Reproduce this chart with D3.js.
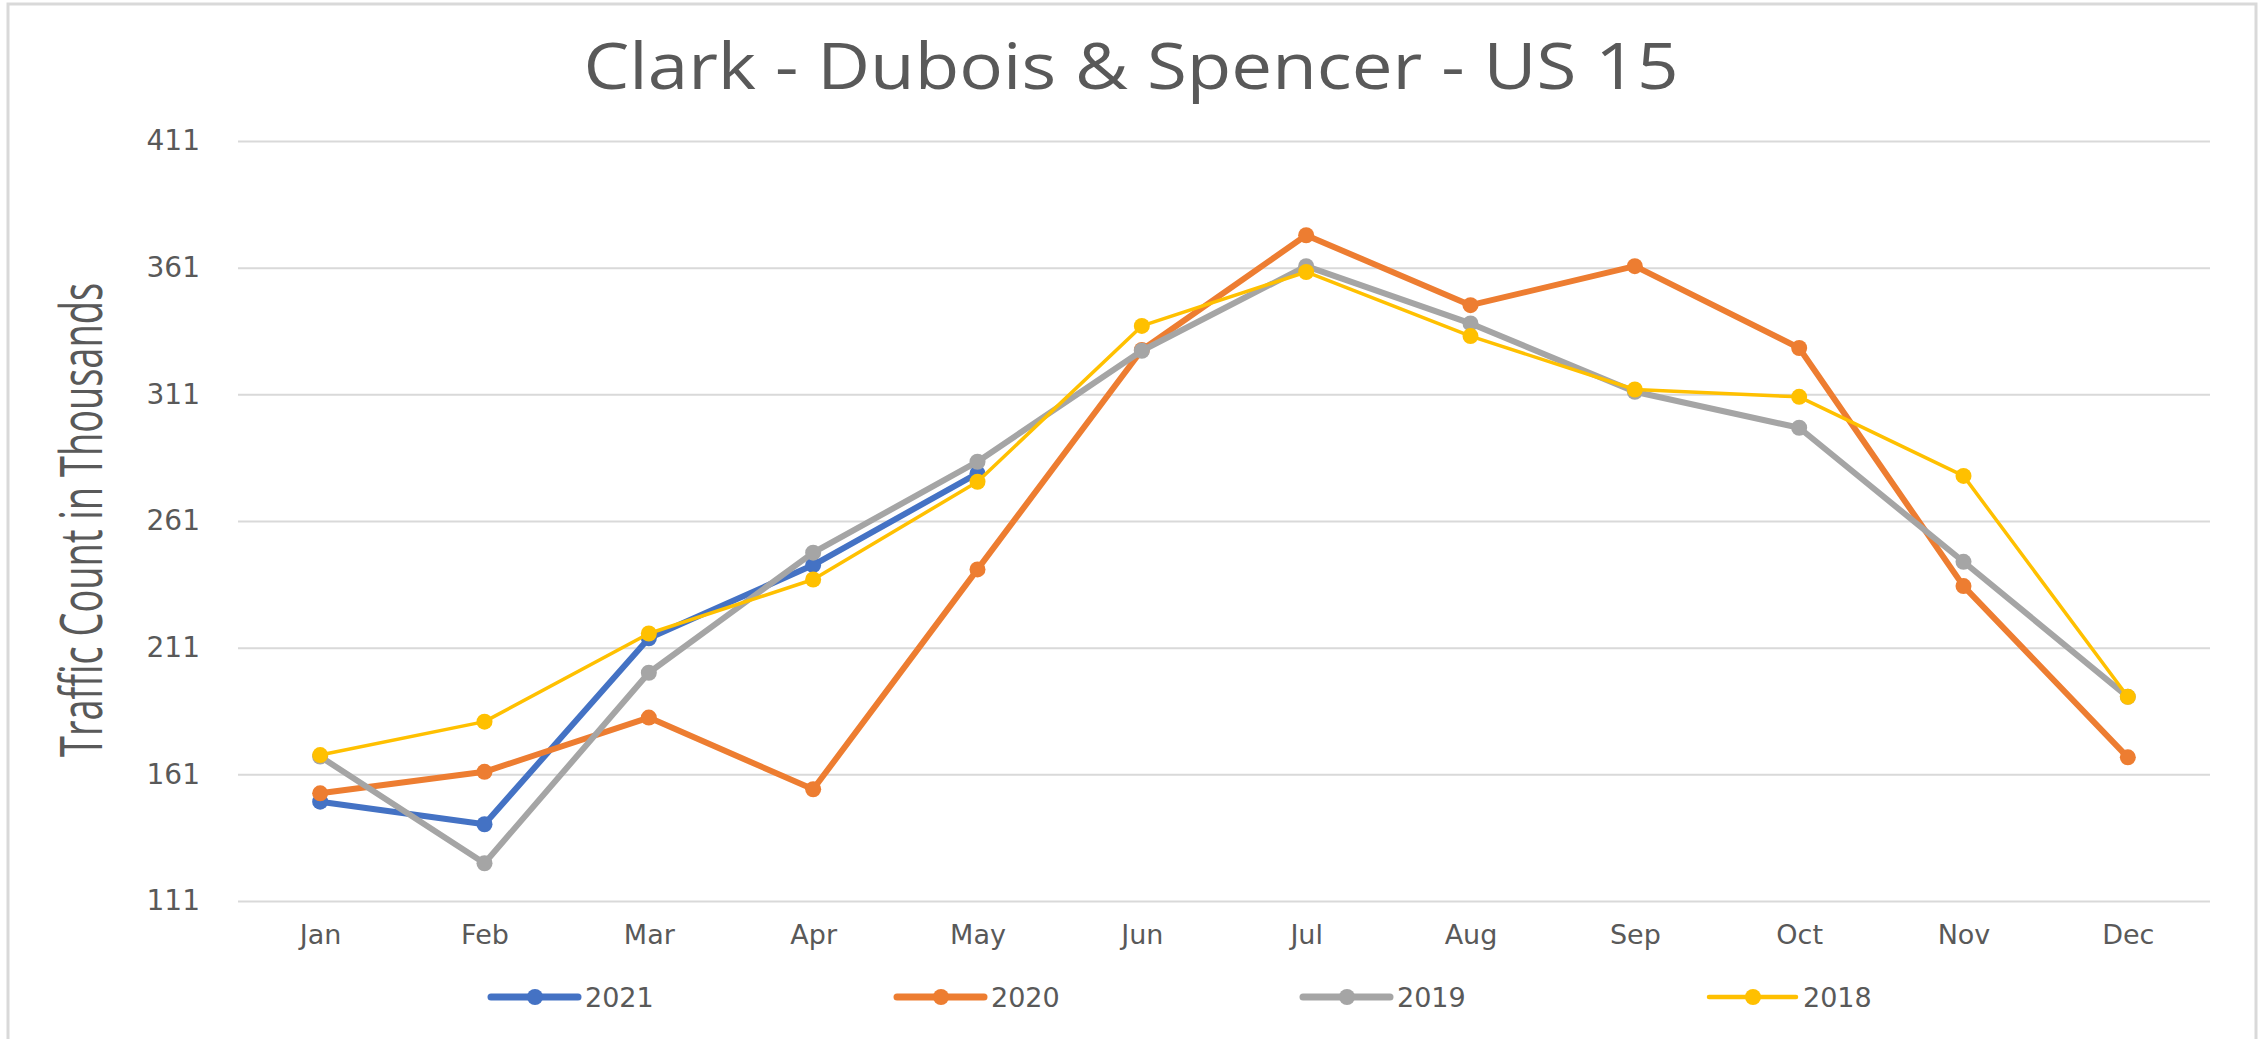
<!DOCTYPE html>
<html>
<head>
<meta charset="utf-8">
<script src="https://cdn.jsdelivr.net/npm/d3@7"></script>
<style>
  html, body { margin: 0; padding: 0; background: #fff; }
  svg { display: block; }
</style>
</head>
<body>
<div id="chart"></div>
<script>
// values
const months = ['Jan', 'Feb', 'Mar', 'Apr', 'May', 'Jun', 'Jul', 'Aug', 'Sep', 'Oct', 'Nov', 'Dec'];
const yTicks = [111, 161, 211, 261, 311, 361, 411];
const seriesNames = ['2021', '2020', '2019', '2018'];
const values2021 = [150.2, 141.3, 214.7, 243.6, 279.8, null, null, null, null, null, null, null];
const values2020 = [153.5, 162, 183.4, 155.1, 241.9, 328.5, 373.8, 346.2, 361.6, 329.3, 235.3, 167.7];
const values2019 = [168, 125.9, 201.1, 248.5, 284.4, 328.2, 361.6, 339, 312, 297.8, 244.9, 191.6];
const values2018 = [168.6, 181.8, 216.6, 237.9, 276.5, 338, 359.3, 334, 312.9, 310, 278.8, 191.6];

const width = 2260;
const height = 1039;
const textGray = '#595959';
const gridGray = '#d9d9d9';
const font = '"DejaVu Sans", sans-serif';

const series = [
  { name: seriesNames[0], values: values2021, color: '#4472c4', width: 6 },
  { name: seriesNames[1], values: values2020, color: '#ed7d31', width: 6 },
  { name: seriesNames[2], values: values2019, color: '#a5a5a5', width: 6 },
  { name: seriesNames[3], values: values2018, color: '#ffc000', width: 3.5 },
];

const svg = d3.select('#chart').append('svg')
  .attr('width', width)
  .attr('height', height);

// frame
svg.append('rect')
  .attr('x', 8).attr('y', 4)
  .attr('width', 2248).attr('height', height + 10)
  .attr('fill', '#fff')
  .attr('stroke', gridGray)
  .attr('stroke-width', 3);

const x = d3.scalePoint()
  .domain(months)
  .range([238, 2210])
  .padding(0.5);

const y = d3.scaleLinear()
  .domain([111, 411])
  .range([901, 141]);

// gridlines + y labels
const yAxis = svg.append('g')
  .attr('transform', 'translate(238,0)')
  .call(d3.axisLeft(y).tickValues(yTicks).tickSize(-(2210 - 238)).tickPadding(38));
yAxis.select('.domain').remove();
yAxis.selectAll('.tick line')
  .attr('stroke', gridGray)
  .attr('stroke-width', 2);
yAxis.selectAll('.tick text')
  .attr('fill', textGray)
  .style('font-family', font)
  .style('font-size', '28px');

// x labels
const xAxis = svg.append('g')
  .attr('transform', 'translate(0,901)')
  .call(d3.axisBottom(x).tickSize(0).tickPadding(24));
xAxis.select('.domain').remove();
xAxis.selectAll('.tick text')
  .attr('fill', textGray)
  .style('font-family', font)
  .style('font-size', '27px');

// title
svg.append('text')
  .attr('x', 1131)
  .attr('y', 89)
  .attr('text-anchor', 'middle')
  .attr('fill', textGray)
  .style('font-family', '"Open Sans", sans-serif')
  .style('font-size', '64px')
  .attr('textLength', 1095)
  .attr('lengthAdjust', 'spacingAndGlyphs')
  .text('Clark - Dubois & Spencer - US 15');

// y title
svg.append('text')
  .attr('transform', 'translate(102,520) rotate(-90)')
  .attr('text-anchor', 'middle')
  .attr('fill', textGray)
  .style('font-family', '"Open Sans", sans-serif')
  .style('font-size', '58px')
  .attr('textLength', 474)
  .attr('lengthAdjust', 'spacingAndGlyphs')
  .text('Traffic Count in Thousands');

// lines
const line = d3.line()
  .defined(d => d.v !== null)
  .x(d => x(d.m))
  .y(d => y(d.v));

series.forEach(s => {
  const pts = s.values.map((v, i) => ({ m: months[i], v }));
  const g = svg.append('g');
  g.append('path')
    .datum(pts)
    .attr('fill', 'none')
    .attr('stroke', s.color)
    .attr('stroke-width', s.width)
    .attr('stroke-linejoin', 'round')
    .attr('d', line);
  g.selectAll('circle')
    .data(pts.filter(d => d.v !== null))
    .enter().append('circle')
    .attr('cx', d => x(d.m))
    .attr('cy', d => y(d.v))
    .attr('r', 8)
    .attr('fill', s.color);
});

// legend
const legend = svg.append('g')
  .attr('transform', 'translate(491,997)');
const item = legend.selectAll('g')
  .data(series)
  .enter().append('g')
  .attr('transform', (d, i) => `translate(${i * 406},0)`);
item.append('line')
  .attr('x1', 0).attr('x2', 87)
  .attr('stroke', d => d.color)
  .attr('stroke-width', d => d.width + 1)
  .attr('stroke-linecap', 'round');
item.append('circle')
  .attr('cx', 44)
  .attr('r', 8)
  .attr('fill', d => d.color);
item.append('text')
  .attr('x', 94)
  .attr('dy', '0.36em')
  .attr('fill', textGray)
  .style('font-family', font)
  .style('font-size', '27px')
  .text(d => d.name);
</script>
</body>
</html>
